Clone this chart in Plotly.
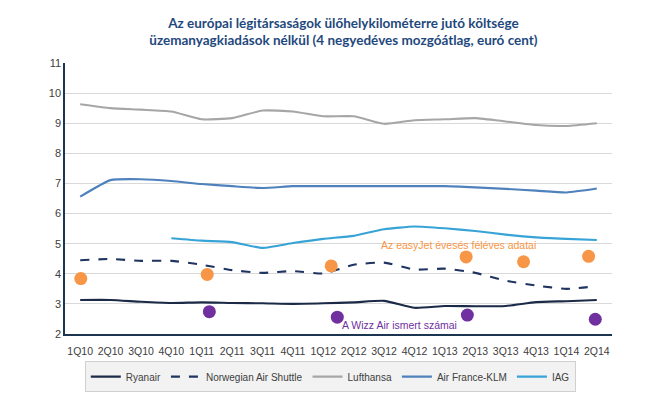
import plotly.graph_objects as go

quarters = ["1Q10", "2Q10", "3Q10", "4Q10", "1Q11", "2Q11", "3Q11", "4Q11", "1Q12",
            "2Q12", "3Q12", "4Q12", "1Q13", "2Q13", "3Q13", "4Q13", "1Q14", "2Q14"]

ryanair = [3.13, 3.13, 3.07, 3.03, 3.05, 3.03, 3.02, 3.00, 3.02,
           3.05, 3.10, 2.87, 2.93, 2.92, 2.93, 3.06, 3.09, 3.13]
norwegian = [4.45, 4.49, 4.43, 4.43, 4.30, 4.12, 4.03, 4.09, 4.01,
             4.30, 4.37, 4.14, 4.17, 4.03, 3.77, 3.61, 3.50, 3.59]
lufthansa = [9.63, 9.50, 9.45, 9.39, 9.13, 9.17, 9.42, 9.39, 9.23,
             9.23, 8.98, 9.10, 9.13, 9.17, 9.06, 8.94, 8.91, 9.00]
af_klm = [6.56, 7.11, 7.14, 7.08, 6.98, 6.91, 6.85, 6.91, 6.91,
          6.91, 6.91, 6.91, 6.91, 6.87, 6.82, 6.76, 6.70, 6.83]
iag = [None, None, None, 5.18, 5.10, 5.05, 4.86, 5.02, 5.16,
       5.26, 5.48, 5.57, 5.51, 5.42, 5.30, 5.21, 5.16, 5.12]

# easyJet (annual / half-year) data points: position on the quarter axis, value
easyjet_pos = [0.02, 4.18, 8.26, 12.70, 14.59, 16.73]
easyjet_val = [3.84, 3.98, 4.26, 4.56, 4.40, 4.58]
# Wizz Air known figures
wizz_pos = [4.25, 8.46, 12.74, 16.95]
wizz_val = [2.74, 2.56, 2.63, 2.49]

title_text = ("Az európai légitársaságok ülőhelykilométerre jutó költsége<br>"
              "üzemanyagkiadások nélkül (4 negyedéves mozgóátlag, euró cent)")

x_idx = list(range(len(quarters)))
fig = go.Figure()

series = [
    ("Ryanair", ryanair, "#1b2a47", "solid"),
    ("Norwegian Air Shuttle", norwegian, "#1f3461", "dash"),
    ("Lufthansa", lufthansa, "#a6a6a6", "solid"),
    ("Air France-KLM", af_klm, "#4f81bd", "solid"),
    ("IAG", iag, "#37a3d6", "solid"),
]
for name, vals, color, dash in series:
    fig.add_trace(go.Scatter(
        x=x_idx, y=vals, name=name, mode="lines",
        line=dict(color=color, width=2.1, dash=dash, shape="spline", smoothing=0.5),
        connectgaps=False,
    ))

fig.add_trace(go.Scatter(x=easyjet_pos, y=easyjet_val, mode="markers", showlegend=False,
                         marker=dict(color="#f79646", size=13)))
fig.add_trace(go.Scatter(x=wizz_pos, y=wizz_val, mode="markers", showlegend=False,
                         marker=dict(color="#7030a0", size=13)))

fig.add_annotation(x=12.45, y=4.96, text="Az easyJet évesés féléves adatai", showarrow=False,
                   font=dict(family="Liberation Sans", size=10.5, color="#f79646"))
fig.add_annotation(x=10.5, y=2.29, text="A Wizz Air ismert számai", showarrow=False,
                   font=dict(family="Liberation Sans", size=10.5, color="#7030a0"))

fig.update_layout(
    width=645, height=396,
    margin=dict(l=57, r=41, t=55, b=57),
    paper_bgcolor="white", plot_bgcolor="white",
    title=dict(text=title_text, x=0.52, xanchor="center", y=0.95, yanchor="top",
               font=dict(family="Lato", size=13.5, color="#1f497d", weight="bold")),
    showlegend=True,
    legend=dict(orientation="h", x=0.485, xanchor="center", y=-0.1, yanchor="top",
                bgcolor="#f2f2f2", bordercolor="#d0d0d0", borderwidth=1,
                font=dict(family="Liberation Sans", size=10, color="#404040"),
                itemwidth=30, tracegroupgap=0),
    xaxis=dict(tickmode="array", tickvals=x_idx, ticktext=quarters, range=[-0.5, 17.5],
               showgrid=False, showline=True, linecolor="#1c3550", linewidth=1.5,
               ticks="", zeroline=False, ticklabelstandoff=7,
               tickfont=dict(family="Liberation Sans", size=10.5, color="#404040")),
    yaxis=dict(range=[2, 11], dtick=1, showgrid=True, gridcolor="#d9d9d9", gridwidth=1,
               showline=True, linecolor="#1c3550", linewidth=1.5, ticks="", zeroline=False,
               tickfont=dict(family="Liberation Sans", size=11, color="#404040")),
)

fig.write_html("out.html")
